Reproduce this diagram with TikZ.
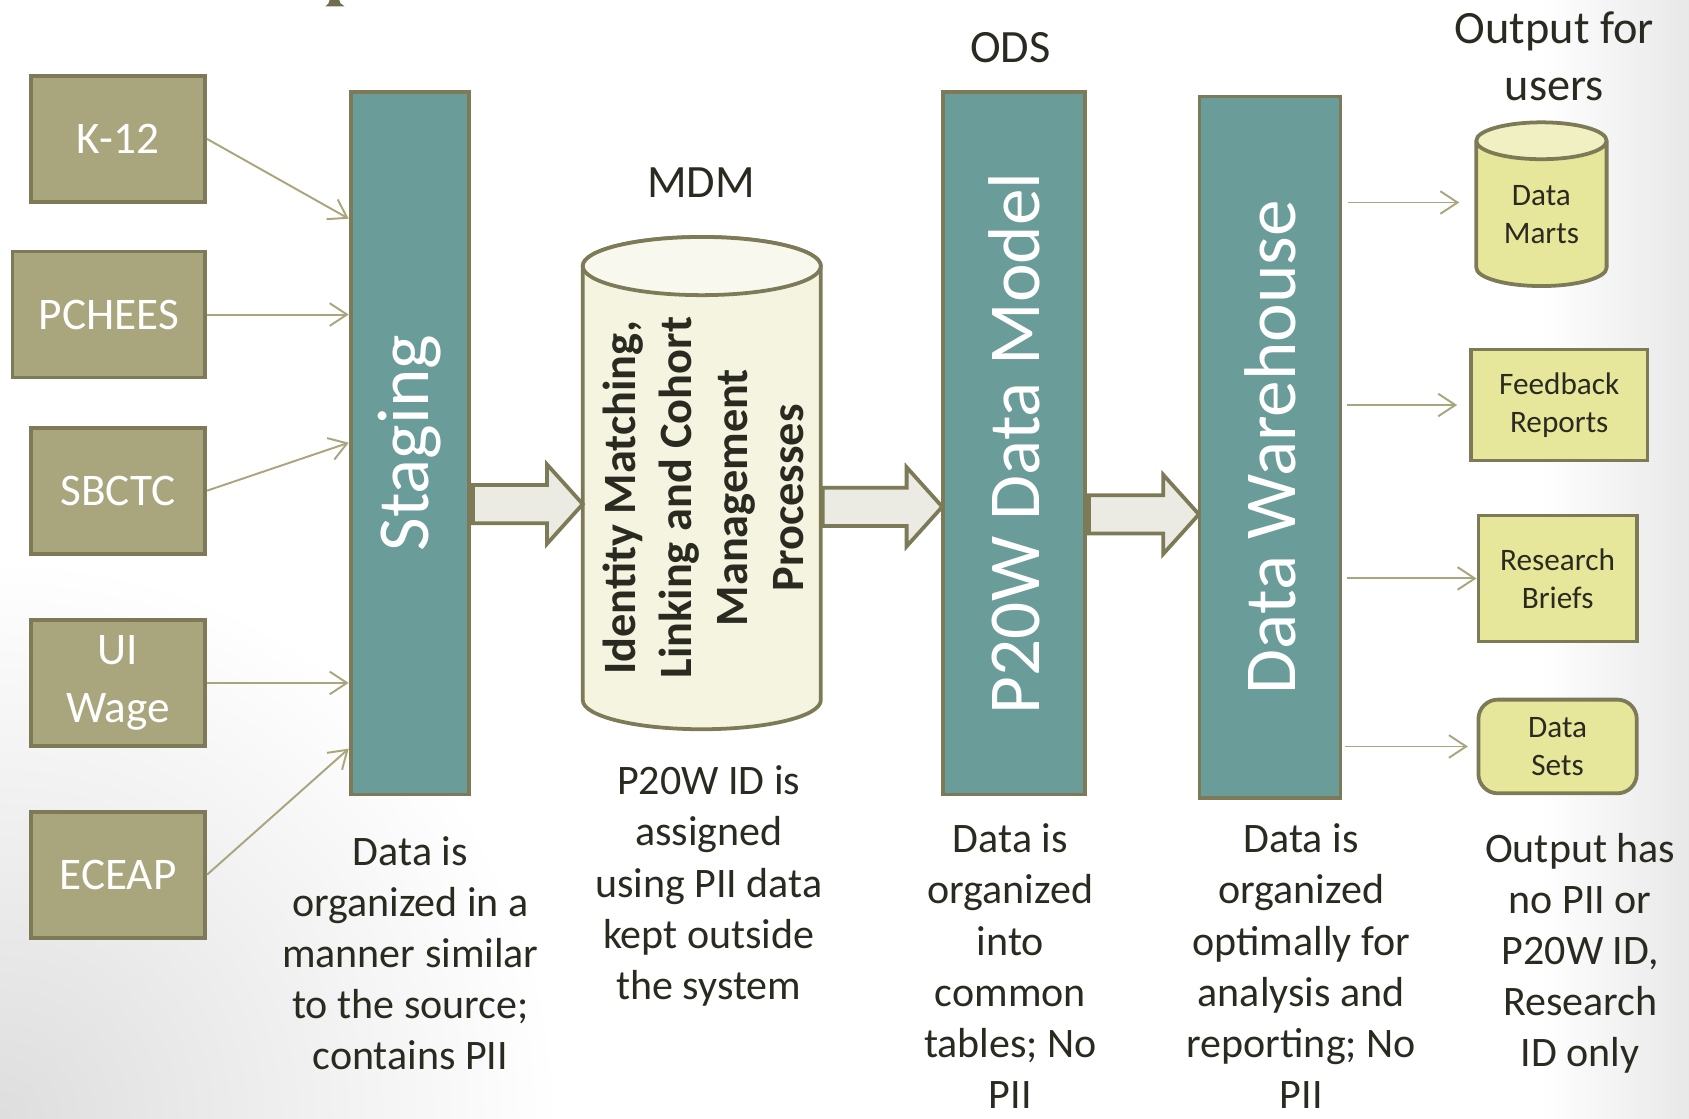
\documentclass[tikz,border=0pt]{standalone}
\usepackage{fontspec}
\setmainfont{Carlito}
\usepackage{graphicx}
\usepackage{xcolor}
\usetikzlibrary{positioning,arrows.meta,shapes.geometric,shapes.arrows}
\definecolor{srcc}{HTML}{A9A57C}
\definecolor{rimc}{HTML}{7D7A58}
\definecolor{tealc}{HTML}{6A9C9A}
\definecolor{mdmc}{HTML}{F4F4E0}
\definecolor{mdmtopc}{HTML}{F8F8EE}
\definecolor{outc}{HTML}{E6E79A}
\definecolor{outtopc}{HTML}{F0F0C2}
\definecolor{arrc}{HTML}{EBEBE4}
\definecolor{inkc}{HTML}{2B2A20}

\begin{document}
\begin{tikzpicture}[x=1pt,y=-1pt,
  srcbox/.style={draw=rimc,fill=srcc,line width=3.5pt,minimum width=162pt,minimum height=117pt,
    inner sep=0pt,text=white,align=center,font=\fontsize{42}{54}\selectfont},
  tower/.style={draw=rimc,fill=tealc,line width=3.5pt,minimum height=652pt,inner sep=0pt,
    text=white,font=\fontsize{68}{80}\selectfont},
  outbox/.style={draw=rimc,fill=outc,line width=3.5pt,inner sep=0pt,text=inkc,align=center,
    font=\fontsize{29}{35}\selectfont},
  db/.style={cylinder,shape border rotate=90,draw=rimc,line width=3.5pt,cylinder uses custom fill,inner sep=0pt},
  cylrim/.style={draw=rimc,line width=3.5pt},
  feed/.style={draw=srcc,line width=1.8pt,-{Straight Barb[length=16pt,width=21pt]}},
  fat/.style={single arrow,draw=rimc,fill=arrc,line width=3.5pt,inner xsep=0pt,inner ysep=16pt,
    single arrow head extend=19pt,single arrow tip angle=96,anchor=tail},
  capt/.style={text=inkc,align=center,font=\fontsize{39}{47.5}\selectfont},
  heading/.style={text=inkc,align=center,font=\fontsize{43}{53}\selectfont}]

\useasboundingbox (0,0) rectangle (1568,1038);
\shade[left color=white,right color=black!9] (1430,0) rectangle (1568,1038);
\shade[inner color=black!13,outer color=white] (0,1038) circle (520pt);
\fill[rimc!90!black] (306,0) -- (315,0) -- (316,3) -- (320,6) -- (302,6) -- (305,3) -- cycle;

% sources
\node[srcbox] (k12) at (109.5,129) {K-12};
\node[srcbox,minimum width=179pt] (pchees) at (101,292) {PCHEES};
\node[srcbox] (sbctc) at (109.5,455.5) {SBCTC};
\node[srcbox] (uiwage) at (109.5,634) {UI\\Wage};
\node[srcbox] (eceap) at (109.5,812) {ECEAP};

% stages
\node[tower,minimum width=110pt] (stage) at (380.5,411.5) {\rotatebox{90}{Staging}};
\node[minimum width=221pt,minimum height=403pt,inner sep=0pt,outer sep=0pt] (mdm) at (651.5,448.5) {};
\filldraw[cylrim,fill=mdmc] (mdm.north west) -- (mdm.south west)
  arc[start angle=180,end angle=360,x radius=110.5pt,y radius=27pt] -- (mdm.north east)
  arc[start angle=0,end angle=180,x radius=110.5pt,y radius=27pt] -- cycle;
\filldraw[cylrim,fill=mdmtopc] (mdm.north) ellipse[x radius=110.5pt,y radius=27pt];
\node[rotate=90,text=inkc,align=center,font=\bfseries\fontsize{43}{52}\selectfont] (mdmtext) at (653,462)
  {Identity Matching,\\Linking and Cohort\\Management\\Processes};
\node[tower,minimum width=132pt] (p20w) at (941.5,411.5) {\rotatebox{90}{P20W Data Model}};
\node[tower,minimum width=131pt,minimum height=651pt] (dw) at (1179,415) {\rotatebox{90}{Data Warehouse}};

% outputs
\node[db,minimum width=121pt,minimum height=152pt,aspect=0.49,text=inkc,align=center,
  font=\fontsize{29}{35}\selectfont,cylinder body fill=outc,cylinder end fill=outtopc] (marts) at (1431,199) {Data\\Marts};
\node[outbox,minimum width=164pt,minimum height=103pt] (feedback) at (1447.5,376) {Feedback\\Reports};
\node[outbox,minimum width=147pt,minimum height=117pt] (briefs) at (1446,537) {Research\\Briefs};
\node[outbox,minimum width=147pt,minimum height=87pt,rounded corners=18pt] (sets) at (1446,693) {Data\\Sets};

\draw[feed] (k12.east) -- (stage.west |- 0,203);
\draw[feed] (pchees.east) -- (stage.west |- pchees.east);
\draw[feed] (sbctc.east) -- (stage.west |- 0,411);
\draw[feed] (uiwage.east) -- (stage.west |- uiwage.east);
\draw[feed] (eceap.east) -- (stage.west |- 0,695);

\node[fat,minimum height=102pt] (a1) at (stage.east |- 0,468) {};
\node[fat,minimum height=111pt] (a2) at (mdm.east |- 0,470.5) {};
\node[fat,minimum height=102pt] (a3) at (p20w.east |- 0,477.5) {};

\draw[feed,shorten <=5pt,shorten >=14pt] (dw.east |- 0,188) -- (marts.west |- 0,188);
\draw[feed,shorten <=4pt,shorten >=11pt] (dw.east |- feedback.west) -- (feedback.west);
\draw[feed,shorten <=4pt] (dw.east |- briefs.west) -- (briefs.west);
\draw[feed,shorten <=2pt,shorten >=8pt] (dw.east |- sets.west) -- (sets.west);

% labels
\node[heading] (mdmlbl) at (651,170) {MDM};
\node[heading] (odslbl) at (938,44) {ODS};
\node[heading] (outlbl) at (1443,52) {Output for\\users};

\node[capt] (stagenote) at (381,885) {Data is\\organized in a\\manner similar\\to the source;\\contains PII};
\node[capt] (mdmnote) at (658,822.5) {P20W ID is\\assigned\\using PII data\\kept outside\\the system};
\node[capt] (odsnote) at (938,897) {Data is\\organized\\into\\common\\tables; No\\PII};
\node[capt] (dwnote) at (1208,897) {Data is\\organized\\optimally for\\analysis and\\reporting; No\\PII};
\node[capt] (outnote) at (1467,885) {Output has\\no PII or\\P20W ID,\\Research\\ID only};
\end{tikzpicture}
\end{document}
